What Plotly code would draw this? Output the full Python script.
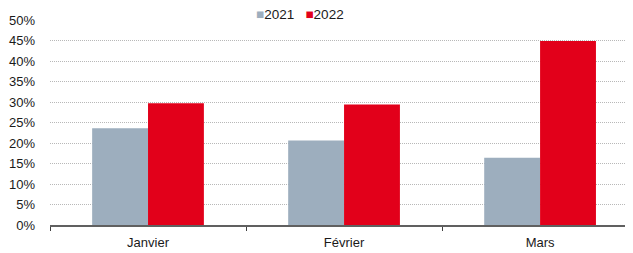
import plotly.graph_objects as go

categories = ["Janvier", "Février", "Mars"]
series_names = ["2021", "2022"]
values_2021 = [23.6, 20.6, 16.4]
values_2022 = [29.7, 29.4, 44.9]
colors = ["#9daebe", "#e2001a"]
y_ticks = [0, 5, 10, 15, 20, 25, 30, 35, 40, 45, 50]
y_tick_labels = [f"{v}%" for v in y_ticks]

fig = go.Figure()
for name, vals, col in zip(series_names, [values_2021, values_2022], colors):
    fig.add_trace(go.Bar(x=categories, y=vals, name=name, marker_color=col,
                         marker_line_width=0, showlegend=False))

legend_text = "&nbsp;&nbsp;&nbsp;".join(
    f"<span style='color:{c}'>■</span>{n}" for n, c in zip(series_names, colors)
)
fig.add_annotation(text=legend_text, xref="paper", yref="paper",
                   x=(255 - 50) / 583, xanchor="left", y=1 + 12 / 205, yanchor="top",
                   yshift=2, borderpad=0, showarrow=False,
                   font=dict(size=13.5, color="#1a1a1a"))

# page body has an 8px default margin, so the figure is sized to fit the window
fig.update_layout(
    width=625, height=245,
    margin=dict(l=42, r=0, t=12, b=28, autoexpand=False),
    paper_bgcolor="white", plot_bgcolor="white",
    font=dict(family="Liberation Sans, Arial, sans-serif", size=13, color="#1a1a1a"),
    barmode="group", bargap=0.43, bargroupgap=0,
)
fig.update_xaxes(
    range=[-0.5, 2.474], type="category", automargin=False,
    showline=True, linecolor="#606060", linewidth=1.5,
    tickson="boundaries", ticks="outside", ticklen=4, tickcolor="#404040",
    ticklabelstandoff=5,
    showgrid=False, zeroline=False,
)
fig.update_yaxes(
    range=[0, 50], tickvals=y_ticks, ticktext=y_tick_labels, automargin=False,
    showgrid=True, gridcolor="#b8b8b8", griddash="1px,1px", gridwidth=1,
    zeroline=False, showline=False, ticks="", ticklabelstandoff=14,
)
fig.write_html("out.html")
